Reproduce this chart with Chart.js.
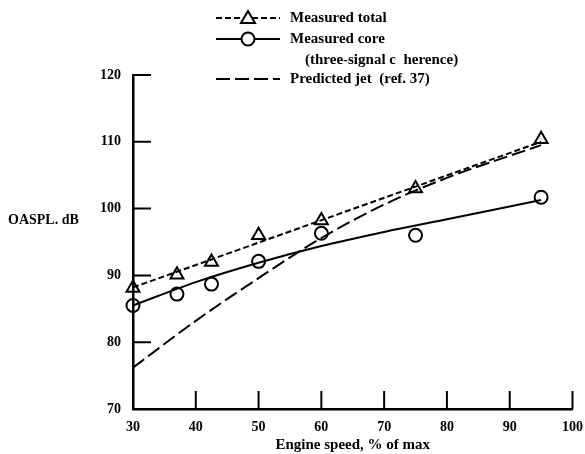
<!DOCTYPE html>
<html>
<head>
<meta charset="utf-8">
<script src="https://cdn.jsdelivr.net/npm/chart.js@4"></script>
<style>
  body { margin: 0; background: #fff; }
  canvas { display: block; }
</style>
</head>
<body>
<canvas id="oasplChart" width="585" height="454"></canvas>
<script>
// measured points
const speedPoints = [30, 37, 42.5, 50, 60, 75, 95];
const measuredTotal = [88.1, 90.1, 92, 96, 98.2, 103, 110.4];
const measuredCore = [85.5, 87.2, 88.7, 92.1, 96.3, 96, 101.7];

// faired curves
const totalFitSpeed = [30, 95];
const totalFit = [88.2, 110];
const curveSpeed = [30, 40, 50, 60, 70, 80, 95];
const coreFit = [85.5, 89, 91.9, 94.4, 96.5, 98.4, 101.3];
const jetFit = [76.2, 83.2, 89.6, 95.6, 100.6, 104.6, 109.5];

const xTicks = [30, 40, 50, 60, 70, 80, 90, 100];
const yTicks = [70, 80, 90, 100, 110, 120];

const SERIF = '"Liberation Serif", "DejaVu Serif", serif';

function toPoints(xs, ys) {
    return xs.map((x, i) => ({ x: x, y: ys[i] }));
}

// tick marks drawn inward from the axes
const inwardTicks = {
    id: 'inwardTicks',
    afterDatasetsDraw(chart) {
        const { ctx, chartArea } = chart;
        const x = chart.scales.x;
        const y = chart.scales.y;
        ctx.save();
        ctx.strokeStyle = '#000';
        ctx.lineWidth = 2;
        ctx.beginPath();
        xTicks.slice(1).forEach(v => {
            const px = x.getPixelForValue(v);
            ctx.moveTo(px, chartArea.bottom);
            ctx.lineTo(px, chartArea.bottom - 18);
        });
        yTicks.slice(1).forEach(v => {
            const py = y.getPixelForValue(v);
            ctx.moveTo(chartArea.left, py);
            ctx.lineTo(chartArea.left + 18, py);
        });
        ctx.stroke();

        // horizontal y axis title
        ctx.fillStyle = '#000';
        ctx.font = 'bold 14px ' + SERIF;
        ctx.textAlign = 'left';
        ctx.textBaseline = 'middle';
        ctx.fillText('OASPL. dB', 8, 220);
        ctx.restore();
    }
};

// legend block at the top of the figure
const keyLegend = {
    id: 'keyLegend',
    afterDraw(chart) {
        const ctx = chart.ctx;
        const x0 = 216, x1 = 280, mid = 248, tx = 290;
        ctx.save();
        ctx.strokeStyle = '#000';
        ctx.fillStyle = '#000';
        ctx.lineWidth = 2;

        function seg(y, dash) {
            ctx.setLineDash(dash);
            ctx.beginPath();
            ctx.moveTo(x0, y);
            ctx.lineTo(x1, y);
            ctx.stroke();
            ctx.setLineDash([]);
        }

        // measured total
        let y = 18;
        seg(y, [6, 3]);
        ctx.fillStyle = '#fff';
        ctx.beginPath();
        ctx.moveTo(mid, y - 7);
        ctx.lineTo(mid + 7, y + 5);
        ctx.lineTo(mid - 7, y + 5);
        ctx.closePath();
        ctx.fill();
        ctx.stroke();

        // measured core
        y = 39;
        seg(y, []);
        ctx.beginPath();
        ctx.arc(mid, y, 6.5, 0, Math.PI * 2);
        ctx.fill();
        ctx.stroke();

        // predicted jet
        seg(79, [14, 5]);

        ctx.fillStyle = '#000';
        ctx.font = 'bold 15px ' + SERIF;
        ctx.textAlign = 'left';
        ctx.textBaseline = 'middle';
        ctx.fillText('Measured total', tx, 18);
        ctx.fillText('Measured core', tx, 39);
        ctx.fillText('(three-signal c  herence)', tx + 15, 60);
        ctx.fillText('Predicted jet  (ref. 37)', tx, 79);
        ctx.restore();
    }
};

const ctx = document.getElementById('oasplChart').getContext('2d');

new Chart(ctx, {
    type: 'scatter',
    data: {
        datasets: [
            {
                label: 'Measured total fit',
                data: toPoints(totalFitSpeed, totalFit),
                showLine: true,
                borderColor: '#000',
                borderWidth: 2,
                borderDash: [6, 3],
                pointRadius: 0
            },
            {
                label: 'Measured core fit',
                data: toPoints(curveSpeed, coreFit),
                showLine: true,
                borderColor: '#000',
                borderWidth: 2,
                cubicInterpolationMode: 'monotone',
                pointRadius: 0
            },
            {
                label: 'Predicted jet (ref. 37)',
                data: toPoints(curveSpeed, jetFit),
                showLine: true,
                borderColor: '#000',
                borderWidth: 2,
                borderDash: [14, 5],
                cubicInterpolationMode: 'monotone',
                pointRadius: 0
            },
            {
                label: 'Measured total',
                data: toPoints(speedPoints, measuredTotal),
                showLine: false,
                pointStyle: 'triangle',
                pointRadius: 7.5,
                pointBorderWidth: 2,
                pointBorderColor: '#000',
                pointBackgroundColor: 'rgba(255,255,255,0)',
                clip: false
            },
            {
                label: 'Measured core (three-signal coherence)',
                data: toPoints(speedPoints, measuredCore),
                showLine: false,
                pointStyle: 'circle',
                pointRadius: 6.5,
                pointBorderWidth: 2,
                pointBorderColor: '#000',
                pointBackgroundColor: 'rgba(255,255,255,0)',
                clip: false
            }
        ]
    },
    options: {
        responsive: false,
        animation: false,
        devicePixelRatio: 1,
        layout: {
            padding: { top: 75, right: 12, left: 0, bottom: 0 }
        },
        plugins: {
            legend: { display: false },
            tooltip: { enabled: false }
        },
        scales: {
            x: {
                type: 'linear',
                min: 30,
                max: 100,
                afterFit: s => { s.height = 45; },
                afterBuildTicks: s => { s.ticks = xTicks.map(v => ({ value: v })); },
                grid: { display: false },
                border: { display: true, color: '#000', width: 2.5 },
                ticks: {
                    color: '#000',
                    padding: 2,
                    maxRotation: 0,
                    font: { family: SERIF, size: 14, weight: 'bold' }
                },
                title: {
                    display: true,
                    text: 'Engine speed, % of max',
                    color: '#000',
                    padding: { top: 0, bottom: 0 },
                    font: { family: SERIF, size: 15, weight: 'bold' }
                }
            },
            y: {
                type: 'linear',
                min: 70,
                max: 120,
                afterFit: s => { s.width = 133; },
                afterBuildTicks: s => { s.ticks = yTicks.map(v => ({ value: v })); },
                grid: { display: false },
                border: { display: true, color: '#000', width: 2.5 },
                ticks: {
                    color: '#000',
                    padding: 4,
                    font: { family: SERIF, size: 14, weight: 'bold' }
                }
            }
        }
    },
    plugins: [inwardTicks, keyLegend]
});
</script>
</body>
</html>
